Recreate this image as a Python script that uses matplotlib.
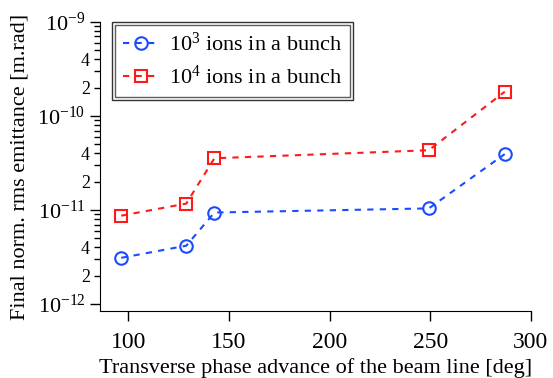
import math
import matplotlib
matplotlib.use("Agg")
import matplotlib.pyplot as plt
import matplotlib.ticker as mticker
from matplotlib.patches import Rectangle

plt.rcParams['font.family'] = ['Liberation Serif', 'DejaVu Serif']
plt.rcParams['mathtext.fontset'] = 'custom'
plt.rcParams['mathtext.rm'] = 'Liberation Serif'
plt.rcParams['mathtext.it'] = 'Liberation Serif:italic'

# phase advance [deg]
fase = [96.5, 128.8, 142.8, 249.3, 287.0]
# emittance, 10^3 ions
emit_1e3 = [3.1e-12, 4.17e-12, 9.4e-12, 1.04e-11, 3.93e-11]
# emittance, 10^4 ions
emit_1e4 = [8.7e-12, 1.17e-11, 3.55e-11, 4.32e-11, 1.81e-10]

etichette = [r'$10^3$ ions in a bunch', r'$10^4$ ions in a bunch']

fig = plt.figure(figsize=(5.53, 3.78), dpi=100)
ax = fig.add_axes([0.181, 0.177, 0.779, 0.765])

ax.plot(fase, emit_1e3, linestyle='--', color='#1a4cff', marker='o', markersize=9,
        markerfacecolor='none', markeredgewidth=1.5, linewidth=1.5, dashes=(3, 3),
        label=etichette[0])
ax.plot(fase, emit_1e4, linestyle='--', color='#ff1a1a', marker='s', markersize=9,
        markerfacecolor='none', markeredgewidth=1.5, linewidth=1.5, dashes=(3, 3),
        label=etichette[1])

ax.set_yscale('log')
ymin, ymax = 10**-12.075, 1e-9
ax.set_ylim(ymin, ymax)
ax.set_xlim(86, 300)
ax.set_xticks([100, 150, 200, 250, 300])

decadi = [-12, -11, -10, -9]
ax.yaxis.set_major_locator(mticker.FixedLocator([10.0 ** d for d in decadi]))
ax.yaxis.set_major_formatter(mticker.FuncFormatter(
    lambda v, p: r'$10^{%d}$' % round(math.log10(v))))
minori = [m * 10.0 ** d for d in decadi[:-1] for m in range(2, 10)]
ax.yaxis.set_minor_locator(mticker.FixedLocator(minori))


def etichetta_minore(v, p):
    m = round(v / 10 ** math.floor(math.log10(v) + 1e-9))
    return str(m) if m in (2, 4) else ''


ax.yaxis.set_minor_formatter(mticker.FuncFormatter(etichetta_minore))

for s in ['top', 'right']:
    ax.spines[s].set_visible(False)

ax.tick_params(axis='both', which='major', direction='out', length=7, width=1)
ax.tick_params(axis='x', which='major', labelsize=17, pad=8)
ax.tick_params(axis='y', which='major', labelsize=16)
ax.tick_params(axis='y', which='minor', direction='out', length=4, width=1,
               labelsize=13)

ax.set_xlabel('Transverse phase advance of the beam line [deg]', fontsize=16)
ax.set_ylabel('Final norm. rms emittance [m.rad]', fontsize=16, labelpad=6)

leg = ax.legend(loc='upper left', bbox_to_anchor=(0.035, 0.99), fontsize=16,
                frameon=True, fancybox=False, edgecolor='#333333',
                handlelength=1.6, handletextpad=0.45, borderpad=0.35,
                labelspacing=0.45, borderaxespad=0)
leg.get_frame().set_linewidth(1.0)

fig.canvas.draw()
bb = leg.get_window_extent().transformed(fig.transFigure.inverted())
d = 3 / 553
dy = 3 / 378
fig.patches.append(Rectangle((bb.x0 - d, bb.y0 - dy), bb.width + 2 * d, bb.height + 2 * dy,
                             transform=fig.transFigure, fill=False,
                             edgecolor='#333333', linewidth=1.0))

fig.savefig('out.png', dpi=100)
